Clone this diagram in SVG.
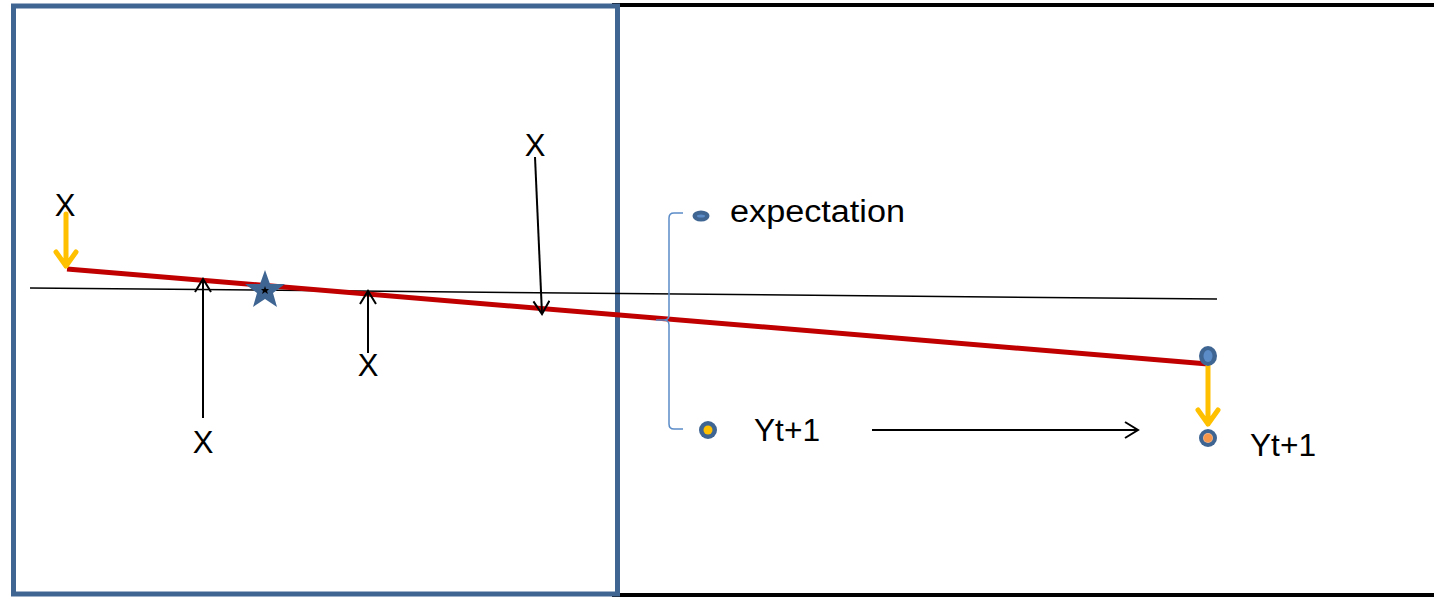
<svg xmlns="http://www.w3.org/2000/svg" width="1434" height="610" viewBox="0 0 1434 610">
<style>
text{font-family:"Liberation Sans","Open Sans",Arial,sans-serif;fill:#000}
.lbl{font-size:31px}
.big{font-size:31px}
.thin{stroke:#000;stroke-width:2;fill:none}
.yel{stroke:#FFC000;stroke-width:5;fill:none;stroke-linecap:round;stroke-linejoin:round}
</style>
<defs>
<marker id="open" markerWidth="16" markerHeight="18" refX="14" refY="9" orient="auto" markerUnits="userSpaceOnUse">
<path d="M1,1 L14,9 L1,17" fill="none" stroke="#000" stroke-width="2"/>
</marker>
</defs>
<rect width="1434" height="610" fill="#fff"/>
<g id="frames">
<line x1="612" y1="5" x2="1434" y2="5" stroke="#000" stroke-width="4"/>
<line x1="612" y1="595" x2="1434" y2="595" stroke="#000" stroke-width="4"/>
<rect x="13.5" y="6" width="604" height="588" fill="none" stroke="#3F6593" stroke-width="5"/>
</g>
<g id="lines">
<line x1="30" y1="288" x2="1217" y2="299" stroke="#000" stroke-width="1.5"/>
<line x1="67" y1="269" x2="1208" y2="364" stroke="#C00000" stroke-width="5"/>
</g>
<g id="star">
<polygon points="265,270 270,284 285,284 273,293 277,307 265,299 253,307 257,293 245,284 260,284" fill="#3F6593"/>
<polygon points="265,286 266,289 269,289 267,291 268,294 265,292 262,294 263,291 261,289 264,289" fill="#000"/>
</g>
<g id="connectors">
<line class="thin" x1="203" y1="418" x2="203" y2="279" marker-end="url(#open)"/>
<line class="thin" x1="368" y1="353" x2="368" y2="291" marker-end="url(#open)"/>
<line class="thin" x1="535" y1="157" x2="542" y2="314" marker-end="url(#open)"/>
<line class="thin" x1="872" y1="430" x2="1138" y2="430" marker-end="url(#open)"/>
<path class="yel" d="M66,214 V266 M56,252 L66,266 L76,252"/>
<path class="yel" d="M1208,365 V424 M1198,410 L1208,424 L1218,410"/>
</g>
<g id="bracket">
<path d="M683,213 H674 Q669,213 669,218 V315 Q669,320 664,320 H656 H664 Q669,320 669,325 V424 Q669,429 674,429 H683" fill="none" stroke="#5B8CC8" stroke-width="1.5"/>
</g>
<g id="x-labels">
<text class="lbl" x="65" y="216" text-anchor="middle">X</text>
<text class="lbl" x="203" y="453" text-anchor="middle">X</text>
<text class="lbl" x="368" y="376" text-anchor="middle">X</text>
<text class="lbl" x="535" y="156" text-anchor="middle">X</text>
</g>
<g id="expectation">
<ellipse cx="701" cy="216" rx="8.5" ry="5.5" fill="#3F6593"/>
<ellipse cx="701" cy="216" rx="4" ry="1.5" fill="#5B8CC8"/>
<text class="big" x="730" y="222" textLength="175" lengthAdjust="spacingAndGlyphs">expectation</text>
</g>
<g id="yt1-left">
<circle cx="708" cy="430" r="9" fill="#3F6593"/>
<circle cx="708" cy="430" r="4.5" fill="#FFC000"/>
<text class="big" x="754" y="441" textLength="66" lengthAdjust="spacingAndGlyphs">Yt+1</text>
</g>
<g id="point-right">
<ellipse cx="1208" cy="356" rx="9" ry="10" fill="#3F6593"/>
<ellipse cx="1208" cy="356" rx="4.5" ry="6" fill="#5B8CC8"/>
</g>
<g id="yt1-right">
<circle cx="1208" cy="438" r="9" fill="#3F6593"/>
<circle cx="1208" cy="438" r="5" fill="#F4B183"/>
<circle cx="1208" cy="438" r="4" fill="#F79646"/>
<text class="big" x="1250" y="456" textLength="66" lengthAdjust="spacingAndGlyphs">Yt+1</text>
</g>
</svg>
